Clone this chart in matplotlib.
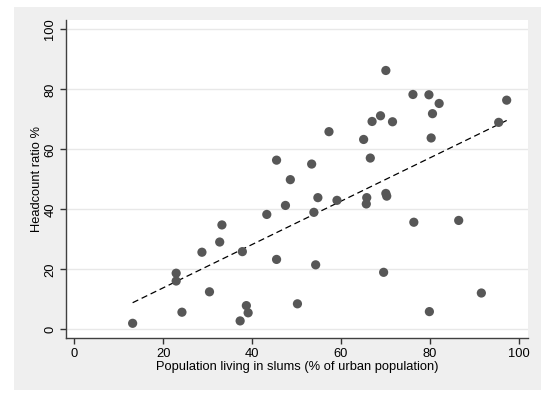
import numpy as np
import matplotlib
matplotlib.use('Agg')
import matplotlib.pyplot as plt
from matplotlib.patches import Rectangle

plt.rcParams['font.family'] = ['Liberation Sans', 'DejaVu Sans']

# % of urban population living in slums
slums = [13.1, 22.9, 22.9, 24.2, 28.7, 30.4, 32.7, 33.2, 37.3, 37.8,
         38.7, 39.1, 43.3, 45.5, 45.5, 47.5, 48.6, 50.2, 53.4, 54.8,
         53.9, 54.3, 57.3, 59.1, 65.1, 65.8, 65.7, 66.6, 67.0, 68.9,
         69.6, 70.1, 70.1, 70.3, 71.6, 76.2, 76.4, 79.8, 79.9, 80.6,
         80.3, 82.1, 86.5, 91.6, 95.5, 97.3]
# headcount ratio %
headcount = [2.0, 18.7, 16.1, 5.7, 25.7, 12.5, 29.1, 34.8, 2.8, 25.9,
             7.9, 5.5, 38.3, 56.4, 23.3, 41.3, 49.9, 8.5, 55.1, 43.9,
             39.0, 21.5, 65.9, 43.0, 63.3, 43.9, 41.8, 57.1, 69.3, 71.2,
             19.0, 86.3, 45.3, 44.4, 69.2, 78.3, 35.7, 78.2, 5.9, 71.9,
             63.8, 75.3, 36.3, 12.1, 69.0, 76.4]

xt = [0, 20, 40, 60, 80, 100]
yt = [0, 20, 40, 60, 80, 100]

x = np.array(slums)
y = np.array(headcount)
b, a = np.polyfit(x, y, 1)
xs = np.array([x.min(), x.max()])

fig = plt.figure(figsize=(5.5, 3.96), dpi=100)
fig.patch.set_facecolor('white')
fig.patches.append(Rectangle((14/550, 1 - 390/396), (541-14)/550, (390-7)/396,
                             transform=fig.transFigure, facecolor='#efefef',
                             edgecolor='none', zorder=0))

ax = fig.add_axes([66/550, 1 - 338/396, (528-66)/550, (338-19.5)/396])
ax.set_facecolor('white')
ax.set_zorder(1)

for t in yt:
    ax.axhline(t, color='#e8e8e8', lw=1, zorder=1)

ax.scatter(x, y, s=44, color='#575757', edgecolors='none', zorder=3)
ax.plot(xs, a + b * xs, color='black', lw=0.9, dashes=(5, 3), zorder=2)

ax.set_xlim(-1.9, 102.1)
ax.set_ylim(-2.9, 103.3)
ax.set_xticks(xt)
ax.set_yticks(yt)
ax.set_yticklabels([str(t) for t in yt], rotation=90, va='center')
ax.tick_params(direction='out', length=4, width=1, color='#333333',
               labelsize=9.3, pad=3)
for s in ['top', 'right']:
    ax.spines[s].set_visible(False)
for s in ['left', 'bottom']:
    ax.spines[s].set_color('#404040')
    ax.spines[s].set_linewidth(1)

ax.set_xlabel('Population living in slums (% of urban population)', fontsize=9.3, labelpad=1)
ax.set_ylabel('Headcount ratio %', fontsize=9.3, labelpad=1)

fig.savefig('out.png', dpi=100, facecolor=fig.get_facecolor())
